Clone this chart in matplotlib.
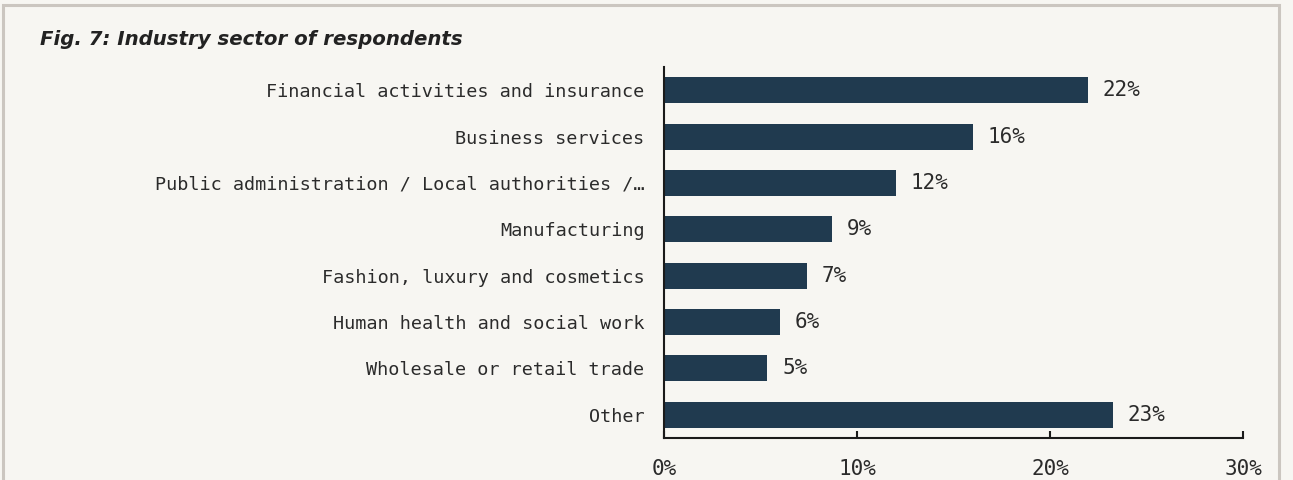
import matplotlib.pyplot as plt
from matplotlib.patches import Rectangle

# Data
categories = [
    'Financial activities and insurance',
    'Business services',
    'Public administration / Local authorities /…',
    'Manufacturing',
    'Fashion, luxury and cosmetics',
    'Human health and social work',
    'Wholesale or retail trade',
    'Other',
]
values = [21.95, 16.0, 12.0, 8.7, 7.4, 6.0, 5.35, 23.25]
value_labels = ['22%', '16%', '12%', '9%', '7%', '6%', '5%', '23%']
x_ticks = [0, 10, 20, 30]
x_tick_labels = ['0%', '10%', '20%', '30%']

bg = '#f7f6f2'
bar_color = '#203a4f'
text_color = '#2b2b2b'
mono = 'DejaVu Sans Mono'

fig = plt.figure(figsize=(12.93, 4.80), dpi=100)
fig.patch.set_facecolor(bg)

# Frame around the figure (bottom edge runs off the picture)
fig.patches.append(Rectangle((3 / 1293, -0.05), 1276 / 1293, 1.05 - 5 / 480,
                             transform=fig.transFigure, fill=False,
                             edgecolor='#cbc6c0', linewidth=2.2))

ax = fig.add_axes([664 / 1293, 42 / 480, 579 / 1293, 371 / 480])
ax.set_facecolor(bg)

pos = list(range(len(categories)))
ax.barh(pos, values, height=0.56, color=bar_color)

for p, v, lab in zip(pos, values, value_labels):
    ax.text(v + 0.78, p, lab, va='center', ha='left', fontsize=15,
            family=mono, color=text_color)

ax.set_ylim(7.5, -0.5)
ax.set_xlim(0, 30)
ax.set_yticks(pos)
ax.set_yticklabels(categories, family=mono, fontsize=13.3, color=text_color)
ax.tick_params(axis='y', length=0, pad=14)

ax.set_xticks(x_ticks)
ax.set_xticklabels(x_tick_labels, family=mono, fontsize=15, color=text_color)
ax.tick_params(axis='x', direction='in', length=5, width=1.5, pad=15,
               color='#1a1a1a')

for s in ['top', 'right']:
    ax.spines[s].set_visible(False)
for s in ['left', 'bottom']:
    ax.spines[s].set_linewidth(1.5)
    ax.spines[s].set_color('#1a1a1a')

fig.text(40 / 1293, 1 - 45 / 480, 'Fig. 7: Industry sector of respondents',
         fontsize=14.2, fontweight='bold', fontstyle='italic',
         family='DejaVu Sans', color='#222222', va='baseline', ha='left')

fig.savefig('out.png', dpi=100, facecolor=bg)
